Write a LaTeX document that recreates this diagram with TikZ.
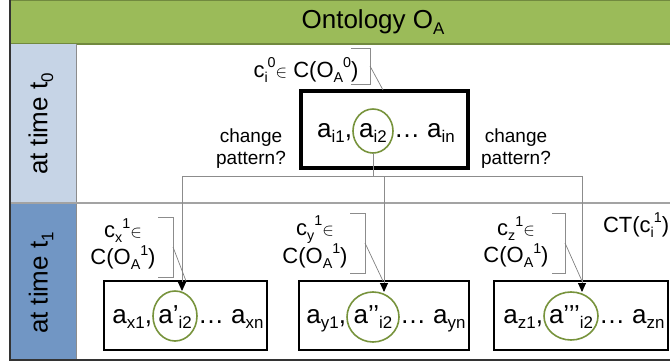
\documentclass[tikz,border=0pt]{standalone}
\usepackage{fontspec}
\setmainfont{Liberation Sans}
\usetikzlibrary{shapes.geometric,arrows.meta}

\definecolor{hdrgreen}{HTML}{9BBB59}
\definecolor{hdredge}{HTML}{71893F}
\definecolor{lightband}{HTML}{C6D4E6}
\definecolor{darkband}{HTML}{7196C4}
\definecolor{ringgreen}{HTML}{77933C}
\definecolor{linegray}{HTML}{8C8C8C}

% index helpers: lowered / raised small text
\newcommand\lowidx[1]{\raisebox{-0.22em}{\scalebox{0.65}{#1}}}
\newcommand\upidx[1]{\raisebox{0.45em}{\scalebox{0.65}{#1}}}
\newcommand\elem{{\fontsize{16}{16}\selectfont$\in$}\ }

\begin{document}
\begin{tikzpicture}[x=1pt,y=-1pt,
  every node/.style={inner sep=0pt, outer sep=0pt},
  boxtxt/.style={font=\fontsize{26}{30}\selectfont},
  bigtxt/.style={font=\fontsize{26}{30}\selectfont},
  ring/.style={ellipse, draw=ringgreen, line width=1.6pt},
  frame/.style={draw=black, line width=1.6pt},
  thickframe/.style={draw=black, line width=3.4pt},
  calltxt/.style={font=\fontsize{22}{27}\selectfont, align=center},
  asktxt/.style={font=\fontsize{19}{22}\selectfont, align=center},
  bracket/.style={draw=linegray, line width=0.8pt},
  leader/.style={draw=gray, line width=0.7pt},
  flow/.style={draw=linegray, line width=0.9pt},
  flowarrow/.style={flow, -{Triangle[length=9pt,width=8pt,color=black]}},
]
\useasboundingbox (0,0) rectangle (670,362);

% header and time bands
\fill[hdrgreen] (10,0) rectangle (670,44);
\draw[hdredge, line width=1.2pt] (10,0.6) -- (670,0.6);
\draw[hdredge, line width=1.2pt] (10,44) -- (670,44);
\fill[lightband] (10,44) rectangle (76,203);
\fill[darkband] (10,203) rectangle (76,360);
\draw[linegray, line width=1pt] (76,44) -- (76,360);
\draw[linegray!80, line width=1.3pt] (10,203) -- (670,203);
\draw[black!80, line width=1.2pt] (10,0) -- (10,360) -- (670,360);

\node[bigtxt] (title) at (373,22) {Ontology O\lowidx{A}};
\node[bigtxt, rotate=90] (lab0) at (41,124) {at time t\lowidx{0}};
\node[bigtxt, rotate=90] (lab1) at (41,283) {at time t\lowidx{1}};

% concept at time t0
\node[thickframe, minimum width=167pt, minimum height=77pt] (box0) at (384.5,129.5) {};
\node[ring, minimum width=40pt, minimum height=44pt] (ring0) at (373,131) {};
\node[boxtxt, anchor=base] (mid0) at (373,137) {a\lowidx{i2}};
\node[boxtxt, anchor=base east] (pre0) at (352,137) {a\lowidx{i1},};
\node[boxtxt, anchor=base west] (post0) at (394,137) {… a\lowidx{in}};

% concepts at time t1
\node[frame, minimum width=163pt, minimum height=69pt] (boxx) at (185.5,315.5) {};
\node[frame, minimum width=170pt, minimum height=69pt] (boxy) at (384,315.5) {};
\node[frame, minimum width=174pt, minimum height=69pt] (boxz) at (581,315.5) {};

\node[ring, minimum width=44pt, minimum height=50pt] (ringx) at (175,316) {};
\node[ring, minimum width=52pt, minimum height=50pt] (ringy) at (373,317) {};
\node[ring, minimum width=54pt, minimum height=48pt] (ringz) at (571,316) {};

\node[boxtxt, anchor=base] (midx) at (175,323) {a’\lowidx{i2}};
\node[boxtxt, anchor=base east] (prex) at (152,323) {a\lowidx{x1},};
\node[boxtxt, anchor=base west] (postx) at (198,323) {… a\lowidx{xn}};

\node[boxtxt, anchor=base] (midy) at (373,323) {a’’\lowidx{i2}};
\node[boxtxt, anchor=base east] (prey) at (346,323) {a\lowidx{y1},};
\node[boxtxt, anchor=base west] (posty) at (400,323) {… a\lowidx{yn}};

\node[boxtxt, anchor=base] (midz) at (571,323) {a’’’\lowidx{i2}};
\node[boxtxt, anchor=base east] (prez) at (543,323) {a\lowidx{z1},};
\node[boxtxt, anchor=base west] (postz) at (599,323) {… a\lowidx{zn}};

% change pattern connectors
\coordinate (jx) at (182,176);
\coordinate (jy) at (384,176);
\coordinate (jz) at (582,176);
\draw[flow] (ring0.south) |- (jx);
\draw[flow] (ring0.south) |- (jz);
\draw[flowarrow] (jx) -- (jx |- ringx.north);
\draw[flowarrow] (jy) -- (jy |- ringy.north);
\draw[flowarrow] (jz) -- (jz |- ringz.north);

\node[asktxt] (ask1) at (251,149) {change\\pattern?};
\node[asktxt] (ask2) at (516,149) {change\\pattern?};

% callouts
\node[calltxt] (call0) at (306,70) {c\lowidx{i}\upidx{0}\elem C(O\lowidx{A}\upidx{0})};
\draw[bracket] (351,48) -- (370,48) -- (370,84) -- (351,84);
\coordinate (k0) at (370,66);
\coordinate (t0) at (383,90);
\draw[leader] (k0) -- (t0);

\node[calltxt] (callx) at (123,244) {c\lowidx{x}\upidx{1}\elem\\C(O\lowidx{A}\upidx{1})};
\draw[bracket] (158,217) -- (173,217) -- (173,277) -- (158,277);
\coordinate (kx) at (173,247);
\coordinate (tx) at (186,281);
\draw[leader] (kx) -- (tx);

\node[calltxt] (cally) at (315,242) {c\lowidx{y}\upidx{1}\elem\\C(O\lowidx{A}\upidx{1})};
\draw[bracket] (350,213) -- (365,213) -- (365,273) -- (350,273);
\coordinate (ky) at (365,243);
\coordinate (ty) at (383,281);
\draw[leader] (ky) -- (ty);

\node[calltxt] (callz) at (516,242) {c\lowidx{z}\upidx{1}\elem\\C(O\lowidx{A}\upidx{1})};
\draw[bracket] (552,213) -- (565,213) -- (565,273) -- (552,273);
\coordinate (kz) at (565,243);
\coordinate (tz) at (582,281);
\draw[leader] (kz) -- (tz);

\node[calltxt, anchor=west] (ct) at (603,225) {CT(c\lowidx{i}\upidx{1})};
\end{tikzpicture}
\end{document}
